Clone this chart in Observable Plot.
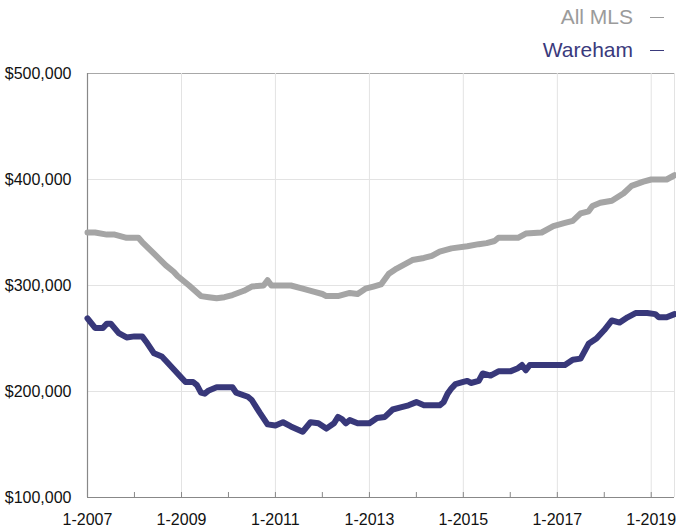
<!DOCTYPE html>
<html>
<head>
<meta charset="utf-8">
<script src="https://cdn.jsdelivr.net/npm/d3@7"></script>
<script src="https://cdn.jsdelivr.net/npm/@observablehq/plot@0.6"></script>
<style>
  html, body { margin: 0; padding: 0; background: #fff; }
  body { width: 676px; height: 527px; overflow: hidden; font-family: "Liberation Sans", Arial, Helvetica, sans-serif; }
  #legend { height: 62px; position: relative; }
  .lg { position: absolute; right: 12px; font-size: 21px; white-space: nowrap; line-height: 24px; }
  .lg .dash { display: inline-block; width: 14px; height: 1.6px; margin-left: 17px; vertical-align: middle; position: relative; top: -1px; }
  #chart svg { display: block; }
</style>
</head>
<body>
<div id="legend">
  <div class="lg" style="top:5px;color:#9b9b9b">All MLS<span class="dash" style="background:#9b9b9b"></span></div>
  <div class="lg" style="top:38px;color:#3a3a7c">Wareham<span class="dash" style="background:#3a3a7c"></span></div>
</div>
<div id="chart"></div>
<script>
const seriesNames = ["All MLS", "Wareham"];
const seriesColors = ["#a5a5a5", "#38387a"];

const mlsDates = ["2007-01","2007-03","2007-06","2007-08","2007-11","2008-02","2008-03","2008-06","2008-09","2008-11","2008-12","2009-03","2009-06","2009-08","2009-10","2009-12","2010-02","2010-05","2010-07","2010-10","2010-11","2010-12","2011-05","2011-08","2011-11","2012-01","2012-02","2012-05","2012-08","2012-10","2012-12","2013-02","2013-04","2013-06","2013-08","2013-10","2013-12","2014-03","2014-05","2014-07","2014-10","2015-02","2015-05","2015-07","2015-09","2015-10","2016-03","2016-05","2016-09","2016-12","2017-03","2017-05","2017-07","2017-09","2017-10","2017-12","2018-03","2018-06","2018-08","2018-11","2019-01","2019-05","2019-07"];
const mlsValues = [350,350,348,348,345,345,341,330,319,313,309,300,290,289,288,289,291,295,299,300,305,300,300,297,294,292,290,290,293,292,297,299,301,311,316,320,324,326,328,332,335,337,339,340,342,345,345,349,350,356,359,361,368,370,375,378,380,387,394,398,400,400,404];

const warDates = ["2007-01","2007-03","2007-05","2007-06","2007-07","2007-09","2007-11","2008-01","2008-03","2008-04","2008-06","2008-08","2008-09","2008-11","2009-01","2009-02","2009-04","2009-05","2009-06","2009-07","2009-08","2009-10","2009-12","2010-02","2010-03","2010-06","2010-07","2010-09","2010-11","2011-01","2011-03","2011-05","2011-08","2011-10","2011-12","2012-02","2012-04","2012-05","2012-06","2012-07","2012-08","2012-10","2013-01","2013-03","2013-05","2013-07","2013-09","2013-11","2014-01","2014-03","2014-07","2014-08","2014-09","2014-10","2014-11","2015-01","2015-02","2015-03","2015-05","2015-06","2015-08","2015-10","2016-01","2016-03","2016-04","2016-05","2016-06","2017-03","2017-05","2017-07","2017-09","2017-11","2018-01","2018-03","2018-05","2018-07","2018-09","2018-12","2019-02","2019-03","2019-05","2019-07"];
const warValues = [269,260,260,264,264,255,251,252,252,247,236,233,229,221,213,209,209,206,199,198,201,204,204,204,199,195,192,180,169,168,171,167,162,171,170,165,170,176,174,170,173,170,170,175,176,183,185,187,190,187,187,190,198,203,207,209,210,208,210,217,215,219,219,222,225,220,225,225,230,231,245,250,258,267,265,270,274,274,273,270,270,273];

const yTicks = [100000, 200000, 300000, 400000, 500000];
const yearTicks = ["2007","2008","2009","2010","2011","2012","2013","2014","2015","2016","2017","2018","2019"];
const labelTicks = ["2007","2009","2011","2013","2015","2017","2019"];
const xStart = "2007-01-01", xEnd = "2019-07-01";

const parse = s => new Date(s.length === 7 ? s + "-01T00:00:00Z" : (s.length === 4 ? s + "-01-01T00:00:00Z" : s + "T00:00:00Z"));
const rows = [
  ...mlsDates.map((d, i) => ({date: parse(d), value: mlsValues[i] * 1000, series: seriesNames[0]})),
  ...warDates.map((d, i) => ({date: parse(d), value: warValues[i] * 1000, series: seriesNames[1]}))
];
const years = yearTicks.map(parse);
const labels = labelTicks.map(parse);
const fmtX = d => `${d.getUTCMonth() + 1}-${d.getUTCFullYear()}`;

const chart = Plot.plot({
  width: 676,
  height: 465,
  marginTop: 11,
  marginBottom: 30,
  marginLeft: 87,
  marginRight: 2,
  style: {fontFamily: "'Liberation Sans', Arial, Helvetica, sans-serif", fontSize: "16px", color: "#111", background: "#fff", overflow: "visible"},
  x: {type: "utc", domain: [parse(xStart), parse(xEnd)]},
  y: {domain: [100000, 500000]},
  color: {domain: seriesNames, range: seriesColors},
  marks: [
    Plot.ruleY(yTicks.slice(1, -1), {stroke: "#e3e3e3", strokeWidth: 1}),
    Plot.ruleY([yTicks[yTicks.length - 1]], {stroke: "#a8a8a8", strokeWidth: 1}),
    Plot.ruleX(labels.slice(1), {stroke: "#e3e3e3", strokeWidth: 1}),
    Plot.ruleX([parse(xEnd)], {stroke: "#e3e3e3", strokeWidth: 1}),
    Plot.ruleX(years, {y1: 100000, y2: 104700, stroke: "#888", strokeWidth: 1}),
    Plot.ruleX([parse(xStart)], {stroke: "#888", strokeWidth: 1.2}),
    Plot.ruleY([100000], {stroke: "#888", strokeWidth: 1.2}),
    Plot.axisY({ticks: yTicks, tickFormat: d3.format("$,"), tickSize: 0, tickPadding: 16, label: null, fontSize: 16}),
    Plot.axisX({ticks: labels, tickFormat: fmtX, tickSize: 0, tickPadding: 16, label: null, fontSize: 16}),
    Plot.line(rows, {x: "date", y: "value", z: "series", stroke: "series", strokeWidth: 6, strokeLinejoin: "round", strokeLinecap: "round"})
  ]
});
document.getElementById("chart").appendChild(chart);
</script>
</body>
</html>
